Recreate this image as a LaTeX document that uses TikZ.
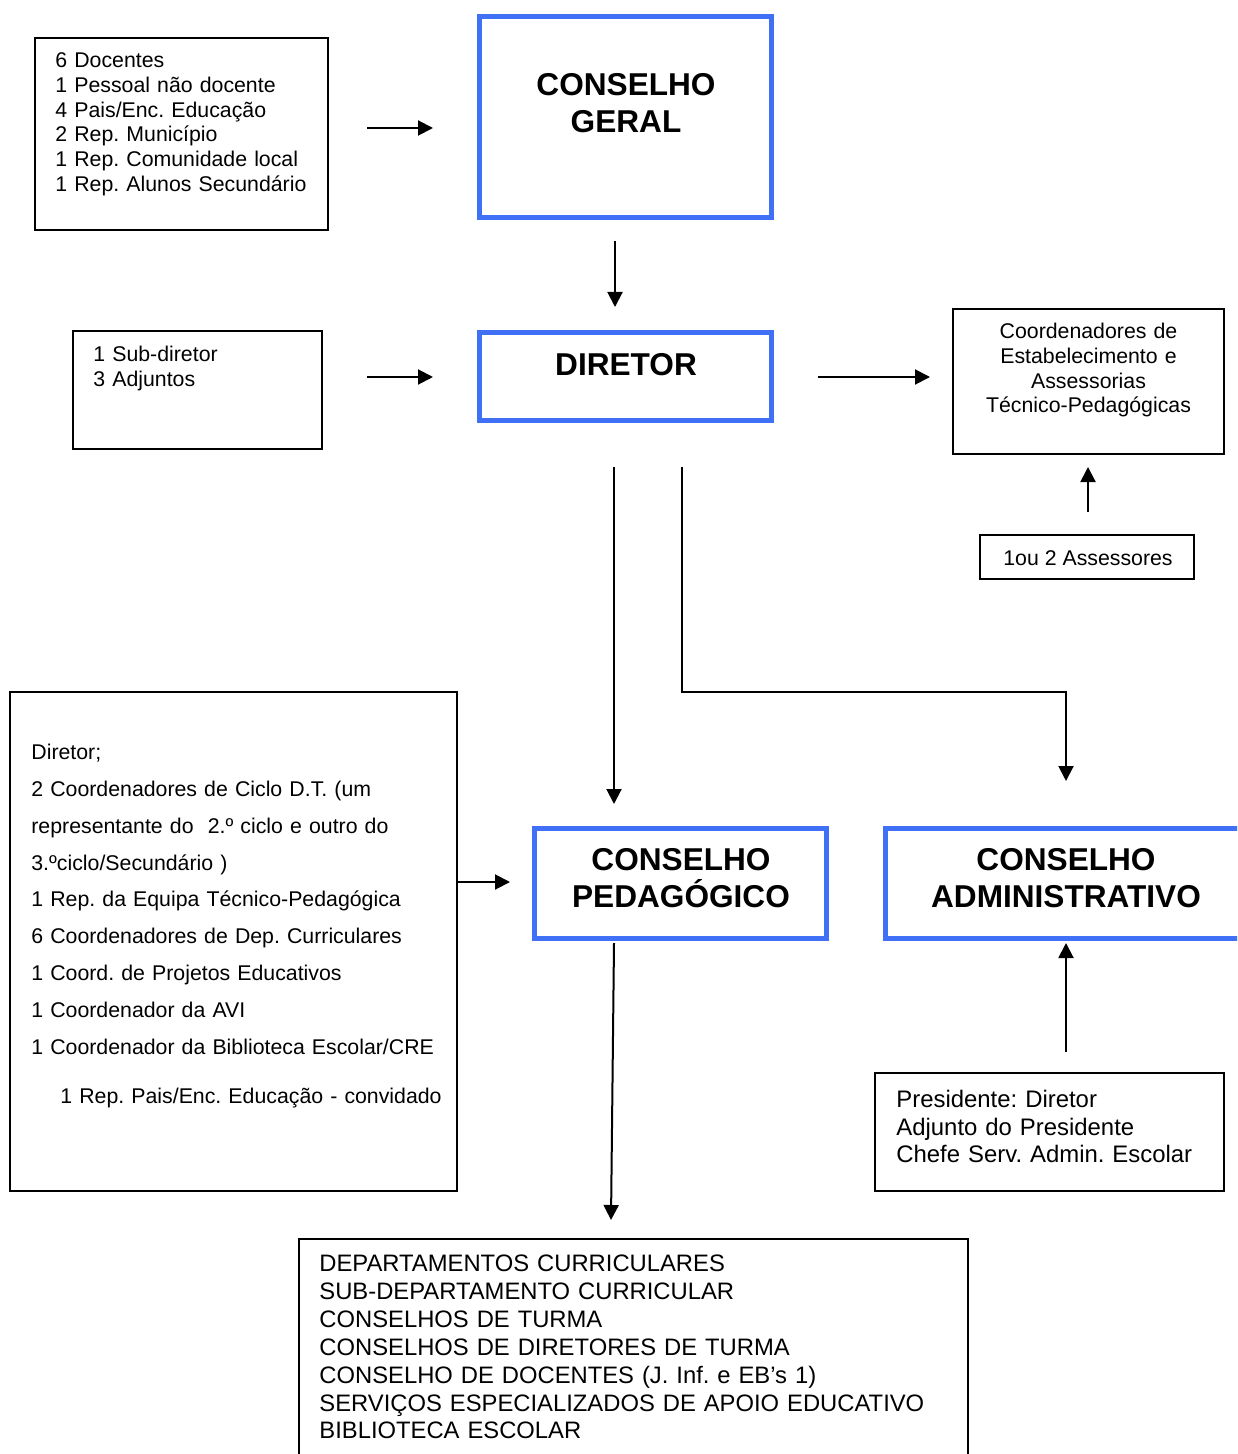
\documentclass[tikz,border=0pt]{standalone}
\usepackage{fontspec}
\setmainfont{Liberation Sans}
\usetikzlibrary{arrows.meta}
\definecolor{bblue}{RGB}{64,112,245}
\frenchspacing
\begin{document}
\frenchspacing
\begin{tikzpicture}[x=0.5pt,y=-0.5pt,
  bluebox/.style={draw=bblue,line width=2.5pt,inner sep=0pt,rectangle},
  blackbox/.style={draw=black,line width=0.75pt,inner sep=0pt,rectangle},
  title/.style={font=\fontsize{15.8}{18.75}\selectfont\bfseries,align=center,inner sep=0pt,anchor=base,text width=150pt},
  txt/.style={font=\fontsize{10.65}{12.4}\selectfont,align=left,inner sep=0pt,anchor=base west},
  arr/.style={line width=1pt,-{Triangle[length=7.5pt,width=7.5pt]}}]
\path[use as bounding box] (0,0) rectangle (1237,1454);
\clip (0,0) rectangle (1237,1454);

% top-left box
\node[blackbox, minimum width=146.5pt, minimum height=96pt] (boxA) at (181.5,134) {};
\node[txt, text width=140pt] (txtA) at (55,67.5) {6 Docentes\\1 Pessoal não docente\\4 Pais/Enc. Educação\\2 Rep. Município\\1 Rep. Comunidade local\\1 Rep. Alunos Secundário};

% Conselho Geral
\node[bluebox, minimum width=146pt, minimum height=100.5pt] (cg) at (625.5,117) {};
\node[title] (cgT) at (626,95.3) {CONSELHO\\GERAL};

% Diretor
\node[bluebox, minimum width=146pt, minimum height=44pt] (dir) at (625.5,376.5) {};
\node[title] (dirT) at (626,375.3) {DIRETOR};

% Sub-diretor
\node[blackbox, minimum width=124.5pt, minimum height=59pt] (sub) at (197.5,390) {};
\node[txt, text width=100pt] (subT) at (93,361.5) {1 Sub-diretor\\3 Adjuntos};

% Coordenadores
\node[blackbox, minimum width=135.5pt, minimum height=72.5pt] (coord) at (1088.5,381.5) {};
\node[txt, align=center, anchor=base, text width=130pt] (coordT) at (1088.5,338.6) {Coordenadores de\\Estabelecimento e\\Assessorias\\Técnico-Pedagógicas};

% Assessores
\node[blackbox, minimum width=107pt, minimum height=22pt] (ass) at (1087,557) {};
\node[txt, anchor=base] (assT) at (1088,565.5) {1ou 2 Assessores};

% left box
\node[blackbox, minimum width=223.5pt, minimum height=249.5pt] (left) at (233.5,941.5) {};
\node[txt, font=\fontsize{10.65}{18.4}\selectfont, text width=220pt] (leftT) at (31,759.6) {Diretor;\\2 Coordenadores de Ciclo D.T. (um\\representante do\ \ 2.º ciclo e outro do\\3.ºciclo/Secundário )\\1 Rep. da Equipa Técnico-Pedagógica\\6 Coordenadores de Dep. Curriculares\\1 Coord. de Projetos Educativos\\1 Coordenador da AVI\\1 Coordenador da Biblioteca Escolar/CRE};
\node[txt, text width=215pt] (leftT2) at (60,1103.6) {1 Rep. Pais/Enc. Educação - convidado};

% Conselho Pedagogico
\node[bluebox, minimum width=146pt, minimum height=55pt] (cp) at (680.5,883.5) {};
\node[title] (cpT) at (681,870.3) {CONSELHO\\PEDAGÓGICO};

% Conselho Administrativo
\node[bluebox, minimum width=180.5pt, minimum height=55pt] (ca) at (1066,883.5) {};
\node[title, text width=180pt] (caT) at (1066,870.3) {CONSELHO\\ADMINISTRATIVO};

% Presidente
\node[blackbox, minimum width=174.5pt, minimum height=59pt] (pres) at (1049.5,1132) {};
\node[txt, font=\fontsize{11.95}{13.75}\selectfont, text width=170pt] (presT) at (896,1107.5) {Presidente: Diretor\\Adjunto do Presidente\\Chefe Serv. Admin. Escolar};

% bottom box
\node[blackbox, minimum width=334.5pt, minimum height=130pt] (bot) at (633.5,1369) {};
\node[txt, font=\fontsize{11.9}{13.95}\selectfont, text width=330pt] (botT) at (319,1271.5) {DEPARTAMENTOS CURRICULARES\\SUB-DEPARTAMENTO CURRICULAR\\CONSELHOS DE TURMA\\CONSELHOS DE DIRETORES DE TURMA\\CONSELHO DE DOCENTES (J. Inf. e EB’s 1)\\SERVIÇOS ESPECIALIZADOS DE APOIO EDUCATIVO\\BIBLIOTECA ESCOLAR};

% connector ends
\coordinate (a1s) at (367,128);  \coordinate (a1e) at (433,128);
\coordinate (a2s) at (615,241);  \coordinate (a2e) at (615,307);
\coordinate (a3s) at (367,377);  \coordinate (a3e) at (433,377);
\coordinate (a4s) at (818,377);  \coordinate (a4e) at (930,377);
\coordinate (a5s) at (1088,512); \coordinate (a5e) at (1088,467);
\coordinate (a6s) at (614,467);  \coordinate (a6e) at (614,804);
\coordinate (a7s) at (682,467);  \coordinate (a7a) at (682,692);
\coordinate (a7b) at (1066,692); \coordinate (a7e) at (1066,781);
\coordinate (a8s) at (457,882);  \coordinate (a8e) at (510,882);
\coordinate (a9s) at (1066,1052); \coordinate (a9e) at (1066,943);
\coordinate (a10s) at (614,943); \coordinate (a10e) at (611,1220);

\draw[arr] (a1s) -- (a1e);
\draw[arr] (a2s) -- (a2e);
\draw[arr] (a3s) -- (a3e);
\draw[arr] (a4s) -- (a4e);
\draw[arr] (a5s) -- (a5e);
\draw[arr] (a6s) -- (a6e);
\draw[arr] (a7s) -- (a7a) -- (a7b) -- (a7e);
\draw[arr] (a8s) -- (a8e);
\draw[arr] (a9s) -- (a9e);
\draw[arr] (a10s) -- (a10e);
\end{tikzpicture}
\end{document}
